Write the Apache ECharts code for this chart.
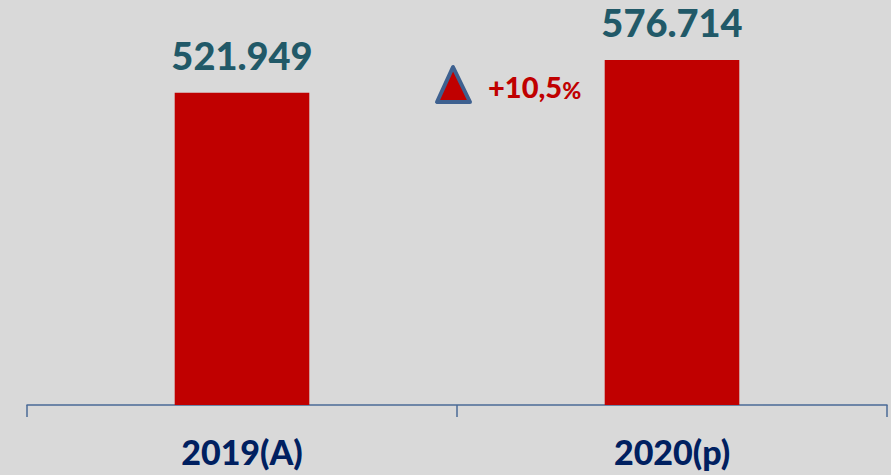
<!DOCTYPE html>
<html lang="es">
  <head>
    <meta charset="UTF-8" />
    <script src="https://cdn.jsdelivr.net/npm/echarts@6/dist/echarts.min.js"></script>
    <title>Comparativo 2019-2020</title>
  </head>
  <body style="margin: 0; background: #d9d9d9">
    <div id="chart" style="width: 891px; height: 475px"></div>
  </body>
</html>

<script>
  const categories = ["2019(A)", "2020(p)"];
  const values = [521949, 576714];
  const variacion = "+10,5";

  const fmt = (v) => v.toLocaleString("de-DE");

  const chart = echarts.init(document.getElementById("chart"), null, { renderer: "svg" });
  chart.setOption({
    backgroundColor: "#d9d9d9",
    grid: { left: 27, right: 4, top: 60, bottom: 70 },
    xAxis: {
      type: "category",
      data: categories,
      axisLine: { lineStyle: { color: "#4a6a96", width: 1.5 } },
      axisTick: { show: true, length: 12, lineStyle: { color: "#4a6a96", width: 1.5 } },
      axisLabel: {
        color: "#002060",
        fontFamily: "Lato",
        fontWeight: 900,
        fontSize: 34,
        margin: 29,
      },
    },
    yAxis: { type: "value", min: 0, max: "dataMax", show: false, splitLine: { show: false } },
    series: [
      {
        type: "bar",
        data: values,
        barWidth: "31.3%",
        itemStyle: { color: "#c00000" },
        label: {
          show: true,
          position: "top",
          distance: 19,
          formatter: (p) => fmt(p.value),
          color: "#215968",
          fontFamily: "Lato",
          fontWeight: 900,
          fontSize: 38,
        },
      },
    ],
    graphic: [
      {
        type: "polygon",
        shape: { points: [[453, 67], [437, 102], [470, 102]] },
        style: { fill: "#c00000", stroke: "#3e6190", lineWidth: 4, lineJoin: "round" },
      },
      {
        type: "text",
        left: 488,
        top: 72,
        style: {
          text: "{a|" + variacion + "}{b|%}",
          rich: {
            a: { fontFamily: "Lato", fontWeight: 900, fontSize: 29, fill: "#c00000" },
            b: { fontFamily: "Lato", fontWeight: 900, fontSize: 23, fill: "#c00000", verticalAlign: "bottom" },
          },
        },
      },
    ],
  });
</script>
